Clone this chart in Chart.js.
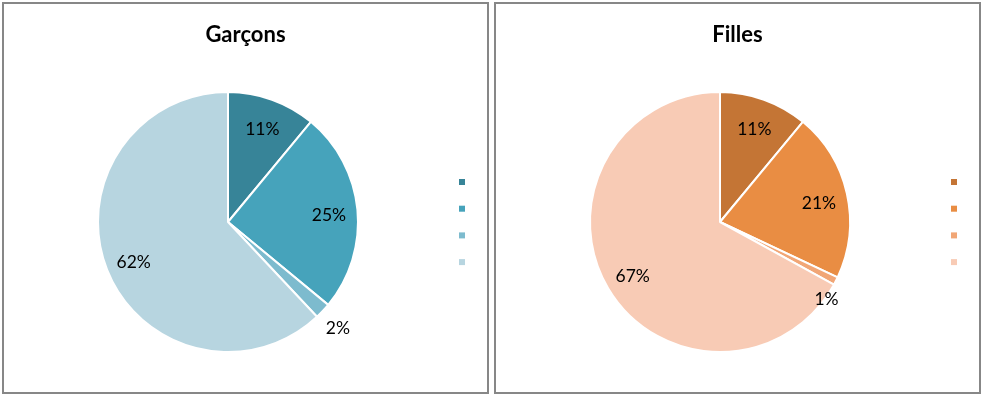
<!DOCTYPE html>
<html>
<head>
<meta charset="utf-8">
<script src="https://cdn.jsdelivr.net/npm/chart.js@4.4.0/dist/chart.umd.min.js"></script>
<style>
  html, body { margin: 0; padding: 0; background: #fff; }
  .panel { position: absolute; top: 2px; width: 483px; height: 388px; border: 2px solid #878787; background: #fff; }
  #p1 { left: 2px; }
  #p2 { left: 494px; }
  canvas { display: block; }
</style>
</head>
<body>
<div class="panel" id="p1"><canvas id="c1" width="483" height="388"></canvas></div>
<div class="panel" id="p2"><canvas id="c2" width="483" height="388"></canvas></div>
<script>
// ---- data ----
const categories = ["Catégorie 1", "Catégorie 2", "Catégorie 3", "Catégorie 4"];
const titleBoys = "Garçons";
const titleGirls = "Filles";
const boysValues = [11, 25, 2, 62];
const girlsValues = [11, 21, 1, 67];
const boysColors = ["#378498", "#46a3bb", "#7dbbce", "#b7d5e0"];
const girlsColors = ["#c47535", "#e98d43", "#f1a676", "#f8cbb5"];

const FONT = "Lato, 'Open Sans', sans-serif";

const titlePlugin = {
  id: 'panelTitle',
  afterDraw(chart, args, opts) {
    const ctx = chart.ctx;
    ctx.save();
    ctx.font = "bold 22px " + FONT;
    ctx.fillStyle = "#000";
    ctx.textAlign = "center";
    ctx.textBaseline = "alphabetic";
    ctx.fillText(opts.text, opts.x, opts.y);
    ctx.restore();
  }
};

const legendPlugin = {
  id: 'squareLegend',
  afterDraw(chart, args, opts) {
    const ctx = chart.ctx;
    const colors = chart.data.datasets[0].backgroundColor;
    ctx.save();
    colors.forEach((c, i) => {
      ctx.fillStyle = c;
      ctx.fillRect(opts.x, opts.y + i * opts.gap, 6, 6);
    });
    ctx.restore();
  }
};

const labelPlugin = {
  id: 'pctLabels',
  afterDatasetsDraw(chart, args, opts) {
    const ctx = chart.ctx;
    const meta = chart.getDatasetMeta(0);
    const data = chart.data.datasets[0].data;
    ctx.save();
    ctx.font = "17.5px " + FONT;
    ctx.fillStyle = "#000";
    ctx.textAlign = "center";
    ctx.textBaseline = "middle";
    meta.data.forEach((arc, i) => {
      const p = arc.getProps(['x', 'y', 'startAngle', 'endAngle', 'outerRadius'], true);
      let mid = (p.startAngle + p.endAngle) / 2;
      let f = opts.inside;
      if (data[i] < 5) {
        f = opts.outside;
        mid += opts.outsideShift * Math.PI / 180;
      }
      const x = p.x + Math.cos(mid) * p.outerRadius * f;
      const y = p.y + Math.sin(mid) * p.outerRadius * f + opts.dy;
      ctx.fillText(data[i] + "%", x, y);
    });
    ctx.restore();
  }
};

function makeChart(id, values, colors, title, outside, shift) {
  return new Chart(document.getElementById(id), {
    type: 'pie',
    data: {
      labels: categories,
      datasets: [{
        data: values,
        backgroundColor: colors,
        borderColor: '#ffffff',
        borderWidth: 2
      }]
    },
    options: {
      responsive: false,
      animation: false,
      layout: { padding: { left: 93, right: 128, top: 87, bottom: 39 } },
      plugins: {
        legend: { display: false },
        tooltip: { enabled: false },
        panelTitle: { text: title, x: 241.5, y: 37.5 },
        squareLegend: { x: 455, y: 175, gap: 26.7 },
        pctLabels: { inside: 0.78, outside: outside, outsideShift: shift, dy: 3 }
      }
    },
    plugins: [titlePlugin, legendPlugin, labelPlugin]
  });
}

makeChart('c1', boysValues, boysColors, titleBoys, 1.16, 0);
makeChart('c2', girlsValues, girlsColors, titleGirls, 1.0, 8);
</script>
</body>
</html>
